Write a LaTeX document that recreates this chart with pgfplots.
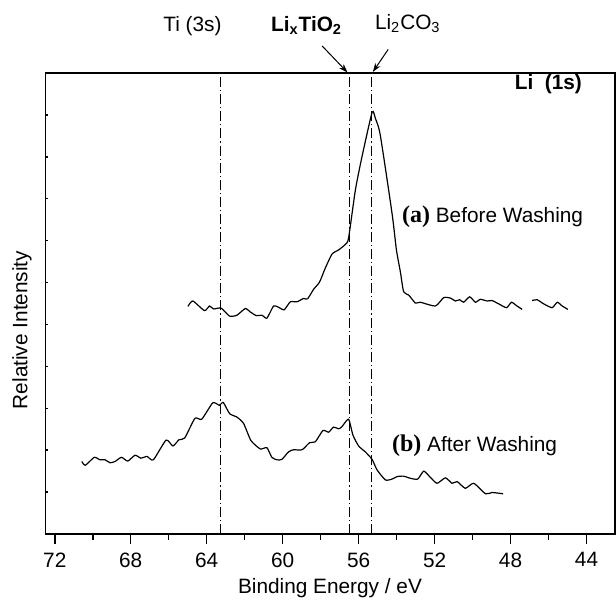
\documentclass[border=0pt]{standalone}
\usepackage{pgfplots}
\pgfplotsset{compat=1.18}
\usepackage{fontspec}
\setmainfont{Liberation Sans}
\newfontfamily\serif{Liberation Serif}
\usetikzlibrary{arrows.meta}

\newcommand{\lbl}{\fontsize{10.4}{12}\selectfont}

% Li 1s spectrum, before washing
\pgfplotstableread{
x y
64.99 5.43
64.73 5.56
64.12 5.33
63.85 5.44
63.64 5.37
63.24 5.39
62.80 5.20
62.41 5.22
61.97 5.38
61.71 5.30
61.39 5.21
61.09 5.22
60.83 5.15
60.48 5.44
60.22 5.41
59.92 5.35
59.60 5.54
59.25 5.54
58.90 5.62
58.69 5.61
58.37 5.84
58.06 6.01
57.76 6.34
57.40 6.68
57.05 6.78
56.70 6.91
56.53 7.06
56.17 8.21
55.82 9.01
55.29 10.06
55.12 9.92
54.86 9.52
54.24 7.65
54.01 6.78
53.80 6.25
53.63 5.78
53.36 5.70
53.01 5.51
52.75 5.53
51.96 5.44
51.52 5.64
51.17 5.63
50.90 5.56
50.68 5.59
50.47 5.53
50.15 5.66
49.85 5.53
49.59 5.60
49.23 5.56
48.97 5.57
48.62 5.49
48.21 5.40
47.95 5.53
47.69 5.45
47.39 5.36
}\before

% second scan segment of the same spectrum
\pgfplotstableread{
x y
46.86 5.57
46.60 5.59
46.25 5.49
45.81 5.40
45.54 5.53
45.28 5.44
44.98 5.36
}\beforetail

% Li 1s spectrum, after washing
\pgfplotstableread{
x y
70.58 1.73
70.39 1.64
69.92 1.83
69.62 1.77
69.35 1.77
69.09 1.70
68.83 1.73
68.49 1.83
68.16 1.74
67.77 1.88
67.47 1.81
67.14 1.85
66.81 1.77
66.14 2.24
65.78 2.10
65.46 2.25
65.16 2.29
64.62 2.76
64.26 2.74
63.68 3.13
63.33 3.07
63.13 3.14
62.79 2.87
62.41 2.79
62.06 2.64
61.67 2.23
61.18 2.03
60.83 2.06
60.57 1.83
60.30 1.77
60.04 1.78
59.69 1.96
59.43 2.01
58.98 2.01
58.58 2.18
58.28 2.20
57.88 2.47
57.58 2.43
57.32 2.55
57.05 2.51
56.88 2.56
56.53 2.74
56.30 2.36
56.00 2.10
55.65 1.96
55.29 1.78
55.03 1.53
54.59 1.29
54.24 1.31
53.98 1.37
53.63 1.38
53.28 1.33
52.89 1.31
52.57 1.50
52.22 1.35
51.87 1.21
51.43 1.34
51.08 1.21
50.81 1.25
50.38 1.09
49.94 1.21
49.32 0.96
48.97 0.99
48.39 0.96
}\after

\begin{document}
\begin{tikzpicture}
\useasboundingbox (0,0) rectangle (308pt,300.5pt);

\pgfplotsset{
  frame/.style={
    at={(22.65pt,33.5pt)}, anchor=south west,
    scale only axis, width=284.85pt, height=230.5pt,
    x dir=reverse, xmin=42.5, xmax=72.5, ymin=0, ymax=11,
    axis line style={line width=0.75pt},
  },
  spectrum/.style={black, line width=0.6pt, smooth, tension=0.35},
  marker line/.style={black, line width=0.5pt,
    dash pattern=on 5pt off 1.5pt on 0.6pt off 1.5pt},
}

\begin{axis}[
  frame,
  xtick={44,48,...,72},
  minor xtick={46,50,...,70},
  xtick pos=bottom,
  ytick=\empty,
  tick align=outside,
  major tick length=4.75pt,
  minor tick length=2.8pt,
  tick style={line width=0.75pt, black},
  /pgf/number format/assume math mode=true,
  xticklabel style={font=\lbl, yshift=-1pt},
]
  \addplot[spectrum] table {\before};
  \addplot[spectrum] table {\beforetail};
  \addplot[spectrum] table {\after};

  % reference positions: Ti 3s, LixTiO2, Li2CO3
  \addplot[marker line] coordinates {(63.25,0) (63.25,11)};
  \addplot[marker line] coordinates {(56.5,0) (56.5,11)};
  \addplot[marker line] coordinates {(55.3,0) (55.3,11)};
\end{axis}

% small inward ticks on the intensity axis
\begin{axis}[
  frame,
  xtick=\empty,
  ytick={1,...,10},
  yticklabels={},
  ytick pos=left,
  tick align=inside,
  major tick length=1.2pt,
  tick style={line width=0.75pt, black},
]
\end{axis}

% axis titles
\node[font=\lbl] at (165pt, 6.5pt) {Binding Energy / eV};
\node[font=\lbl, rotate=90] at (11pt, 135.5pt) {Relative Intensity};

% in-plot labels
\node[font=\lbl\bfseries, anchor=base east] at (294.5pt, 255.5pt) {Li~~(1s)};
\node[font=\lbl, anchor=base west] at (197.5pt, 189.5pt)
  {{\serif\bfseries\fontsize{12}{14}\selectfont (a)} Before Washing};
\node[font=\lbl, anchor=base west] at (192.5pt, 74.6pt)
  {{\serif\bfseries\fontsize{12}{14}\selectfont (b)} After Washing};

% peak assignments above the frame
\node[font=\lbl, anchor=base] at (96.25pt, 284.65pt) {Ti (3s)};
\node[font=\lbl\bfseries, anchor=base] at (153.3pt, 284.65pt) {Li\textsubscript{x}TiO\textsubscript{2}};
\node[font=\lbl, anchor=base] at (203.9pt, 285.85pt) {Li\textsubscript{2}CO\textsubscript{3}};
\draw[line width=0.5pt, -{Stealth[length=4.5pt, width=3pt]}] (161.1pt, 277.5pt) -- (173.8pt, 264.2pt);
\draw[line width=0.5pt, -{Stealth[length=4.5pt, width=3pt]}] (194.1pt, 275.8pt) -- (186.4pt, 264.5pt);
\end{tikzpicture}
\end{document}
